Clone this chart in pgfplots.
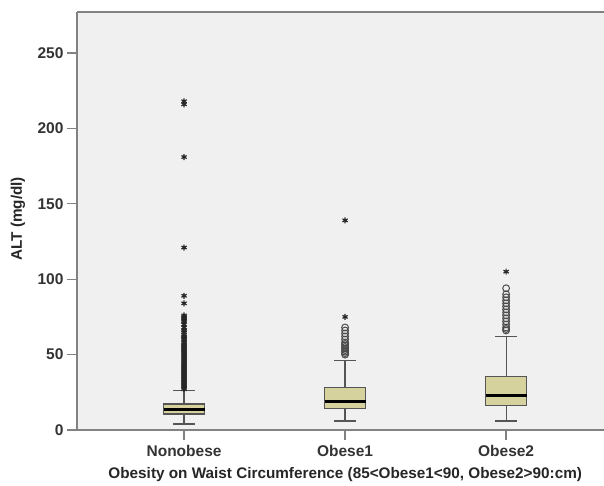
\documentclass[border=0pt]{standalone}
\usepackage{pgfplots}
\pgfplotsset{compat=1.18}
\usepgfplotslibrary{statistics}
\usepackage{fontspec}
\setmainfont{Liberation Sans}
\definecolor{boxfill}{RGB}{214,210,158}
\definecolor{bg}{RGB}{240,240,240}
\definecolor{edge}{RGB}{85,85,85}
\definecolor{axisgray}{RGB}{130,130,130}
\begin{document}
\begin{tikzpicture}
\begin{axis}[
  scale only axis,
  width=527pt, height=418pt,
  anchor=south west, at={(0,0)},
  xmin=0.335, xmax=3.608,
  ymin=0, ymax=277.2,
  axis background/.style={fill=bg},
  axis line style={draw=none},
  xtick={1,2,3},
  xticklabels={Nonobese,Obese1,Obese2},
  ytick={0,50,100,150,200,250},
  tick align=outside,
  major tick length=10pt,
  every tick/.style={axisgray, line width=1.3pt},
  xtick pos=bottom, ytick pos=left,
  /pgf/number format/assume math mode=true,
  tick label style={font=\fontsize{15.5}{18}\selectfont\bfseries, text=black!80},
  xticklabel style={yshift=-1.5pt},
  label style={font=\fontsize{15.3}{18}\selectfont\bfseries, text=black!85},
  xlabel={Obesity on Waist Circumference (85<Obese1<90, Obese2>90:cm)},
  ylabel={ALT (mg/dl)},
  xlabel style={at={(axis description cs:0.509,-0.107)}, anchor=center},
  ylabel style={at={(axis description cs:-0.112,0.505)}, anchor=center},
  clip=false,
  boxplot/draw direction=y,
]
% boxes
\addplot+[boxplot prepared={draw position=1, lower whisker=4, lower quartile=10.6, median=13.7, upper quartile=17.2, upper whisker=26, box extend=0.255, whisker extend=0.137},
  draw=edge, fill=boxfill, line width=1.2pt, mark=none,
  boxplot/every median/.style={draw=black, line width=3pt}] coordinates {};
\addplot+[boxplot prepared={draw position=2, lower whisker=6, lower quartile=14, median=19, upper quartile=28.3, upper whisker=46, box extend=0.255, whisker extend=0.137},
  draw=edge, fill=boxfill, line width=1.2pt, mark=none,
  boxplot/every median/.style={draw=black, line width=3pt}] coordinates {};
\addplot+[boxplot prepared={draw position=3, lower whisker=6, lower quartile=16, median=23, upper quartile=35.6, upper whisker=62, box extend=0.255, whisker extend=0.137},
  draw=edge, fill=boxfill, line width=1.2pt, mark=none,
  boxplot/every median/.style={draw=black, line width=3pt}] coordinates {};
% circle outliers
\addplot[only marks, mark=o, mark size=3.4pt, draw=black!70, line width=1pt] coordinates {
(2,50) (2,51) (2,52) (2,53) (2,54) (2,55) (2,56) (2,57) (2,58) (2,60) (2,62) (2,64) (2,66) (2,68)
(3,66) (3,67) (3,68) (3,70) (3,72) (3,74) (3,76) (3,78) (3,80) (3,82) (3,84) (3,86) (3,88) (3,90) (3,94)
};
% star outliers
\addplot[only marks, mark=asterisk, mark size=3pt, draw=black!85, line width=1.2pt] coordinates {
(1,27) (1,28) (1,29) (1,30) (1,31) (1,32) (1,33) (1,34) (1,35) (1,36) (1,37) (1,38) (1,39) (1,40)
(1,41) (1,42) (1,43) (1,44) (1,45) (1,46) (1,47) (1,48) (1,49) (1,50) (1,51) (1,52) (1,53) (1,54)
(1,55) (1,56) (1,57) (1,58) (1,60) (1,61) (1,62) (1,63) (1,65) (1,66) (1,68) (1,70) (1,72) (1,73)
(1,74) (1,75) (1,76) (1,84) (1,89) (1,121) (1,181) (1,216) (1,218)
(2,75) (2,139) (3,105)
};
\draw[axisgray, line width=1.5pt] (rel axis cs:0,1) -- (rel axis cs:0,0) -- (rel axis cs:1,0);
\draw[axisgray, line width=1.5pt] (rel axis cs:0,1) -- (rel axis cs:1,1);
\end{axis}
\pgfresetboundingbox
\path[use as bounding box] (-77pt,-55pt) rectangle (527pt,12pt+418pt);
\end{tikzpicture}
\end{document}
